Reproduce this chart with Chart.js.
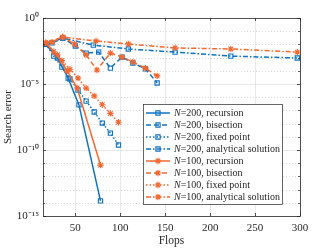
<!DOCTYPE html>
<html>
<head>
<meta charset="UTF-8">
<title>Search error vs flops</title>
<script src="https://cdn.jsdelivr.net/npm/chart.js"></script>
<style>
    body { margin: 0; background: #ffffff; }
    #wrap { position: relative; width: 332px; height: 249px; }
</style>
</head>
<body>
<div id="wrap"><canvas id="errChart"></canvas></div>
<script>
    // Flops (x) and search error (y)
    var recN200X = [17, 30, 42, 54, 78];
    var recN200Y = [1.07e-2, 9.3e-4, 2.8e-5, 2.6e-7, 1.4e-14];
    var bisN200X = [17, 24, 36, 50, 62, 76, 89, 102, 114, 128, 141];
    var bisN200Y = [1.07e-2, 1.3e-2, 3.0e-2, 7.6e-3, 2.2e-3, 2.6e-3, 1.6e-4, 1.1e-3, 3.9e-4, 1.4e-4, 1.2e-5];
    var fixN200X = [17, 26, 35, 44, 53, 62, 71, 80, 89, 98];
    var fixN200Y = [1.07e-2, 1.3e-3, 1.9e-4, 2.4e-5, 3.5e-6, 5.1e-7, 7.6e-8, 1.1e-8, 1.9e-9, 2.4e-10];
    var anaN200X = [17, 36, 70, 109, 161, 223, 297];
    var anaN200Y = [1.07e-2, 3.0e-2, 8.9e-3, 4.5e-3, 2.6e-3, 1.3e-3, 9.3e-4];

    var recN100X = [17, 30, 41, 52, 78];
    var recN100Y = [1.3e-2, 1.6e-3, 9.5e-5, 5.0e-6, 7.2e-12];
    var bisN100X = [17, 24, 36, 49, 62, 74, 89, 102, 114, 128, 141];
    var bisN100Y = [1.3e-2, 1.5e-2, 3.6e-2, 1.07e-2, 1.6e-3, 1.15e-4, 2.2e-3, 1.1e-3, 4.7e-4, 1.6e-4, 4.1e-5];
    var fixN100X = [17, 26, 35, 44, 53, 62, 71, 80, 89, 98];
    var fixN100Y = [1.3e-2, 2.8e-3, 5.9e-4, 1.3e-4, 2.8e-5, 4.9e-6, 1.26e-6, 2.7e-7, 5.9e-8, 1.26e-8];
    var anaN100X = [17, 36, 73, 109, 161, 223, 297];
    var anaN100Y = [1.3e-2, 3.6e-2, 1.8e-2, 1.07e-2, 5.4e-3, 4.5e-3, 2.6e-3];

    var xTicks = [50, 100, 150, 200, 250, 300];
    var yMajorExp = [0, -5, -10, -15];

    var BLUE = '#0f72c0';
    var ORANGE = '#f4682f';
    var SERIF = '"Liberation Serif", "Times New Roman", serif';

    var DASHED = [5, 3];
    var DOTTED = [1.5, 2];
    var DASHDOT = [5, 2, 1.5, 2];

    function pts(xs, ys) {
        return xs.map(function (x, i) { return { x: x, y: ys[i] }; });
    }

    function series(n, method, xs, ys, color, dash, marker, order) {
        return {
            label: n + '|' + method,
            data: pts(xs, ys),
            borderColor: color,
            backgroundColor: 'rgba(0,0,0,0)',
            borderWidth: 1.5,
            borderDash: dash,
            pointStyle: marker,
            pointRadius: marker === 'rect' ? 3 : 3.2,
            pointBorderWidth: 1.1,
            pointBackgroundColor: 'rgba(0,0,0,0)',
            pointBorderColor: color,
            tension: 0,
            order: order
        };
    }

    var datasets = [
        series('200', 'recursion', recN200X, recN200Y, BLUE, [], 'rect', 2),
        series('200', 'bisection', bisN200X, bisN200Y, BLUE, DASHED, 'rect', 2),
        series('200', 'fixed point', fixN200X, fixN200Y, BLUE, DOTTED, 'rect', 2),
        series('200', 'analytical solution', anaN200X, anaN200Y, BLUE, DASHDOT, 'rect', 2),
        series('100', 'recursion', recN100X, recN100Y, ORANGE, [], 'star', 1),
        series('100', 'bisection', bisN100X, bisN100Y, ORANGE, DASHED, 'star', 1),
        series('100', 'fixed point', fixN100X, fixN100Y, ORANGE, DOTTED, 'star', 1),
        series('100', 'analytical solution', anaN100X, anaN100Y, ORANGE, DASHDOT, 'star', 1)
    ];

    // grid, box, inward ticks and the legend, drawn against the chart scales
    var framePlugin = {
        id: 'frame',
        beforeDatasetsDraw: function (chart) {
            var ctx = chart.ctx, a = chart.chartArea;
            var xs = chart.scales.x, ys = chart.scales.y;
            ctx.save();
            ctx.lineWidth = 0.8;
            ctx.strokeStyle = '#e2e2e2';
            xTicks.forEach(function (v) {
                var px = Math.round(xs.getPixelForValue(v)) + 0.5;
                if (px > a.left + 1 && px < a.right - 1) {
                    ctx.beginPath(); ctx.moveTo(px, a.top); ctx.lineTo(px, a.bottom); ctx.stroke();
                }
            });
            for (var e = -1; e > -15; e--) {
                var py = Math.round(ys.getPixelForValue(Math.pow(10, e))) + 0.5;
                if (e % 5 === 0) {
                    ctx.setLineDash([]);
                    ctx.strokeStyle = '#e2e2e2';
                } else {
                    ctx.setLineDash([1, 2]);
                    ctx.strokeStyle = '#cfcfcf';
                }
                ctx.beginPath(); ctx.moveTo(a.left, py); ctx.lineTo(a.right, py); ctx.stroke();
            }
            ctx.restore();
        },
        afterDatasetsDraw: function (chart) {
            var ctx = chart.ctx, a = chart.chartArea;
            var xs = chart.scales.x, ys = chart.scales.y;
            ctx.save();
            ctx.strokeStyle = '#262626';
            ctx.lineWidth = 0.8;
            ctx.strokeRect(Math.round(a.left) + 0.5, Math.round(a.top) + 0.5,
                Math.round(a.right - a.left), Math.round(a.bottom - a.top));
            ctx.beginPath();
            xTicks.forEach(function (v) {
                var px = Math.round(xs.getPixelForValue(v)) + 0.5;
                ctx.moveTo(px, a.bottom); ctx.lineTo(px, a.bottom - 3);
                ctx.moveTo(px, a.top); ctx.lineTo(px, a.top + 3);
            });
            for (var e = 0; e >= -15; e--) {
                var py = Math.round(ys.getPixelForValue(Math.pow(10, e))) + 0.5;
                var len = (e % 5 === 0) ? 3 : 1.8;
                ctx.moveTo(a.left, py); ctx.lineTo(a.left + len, py);
                ctx.moveTo(a.right, py); ctx.lineTo(a.right - len, py);
            }
            ctx.stroke();
            ctx.restore();
            drawLegend(chart);
        }
    };

    function drawLegend(chart) {
        var ctx = chart.ctx, a = chart.chartArea;
        var w = 139, h = 100;
        var left = a.right - 18 - w, top = a.bottom - 12 - h;
        ctx.save();
        ctx.fillStyle = '#ffffff';
        ctx.fillRect(left, top, w, h);
        ctx.strokeStyle = '#262626';
        ctx.lineWidth = 0.7;
        ctx.strokeRect(left + 0.5, top + 0.5, w, h);
        chart.data.datasets.forEach(function (ds, i) {
            var cy = top + 9 + i * 12;
            var parts = ds.label.split('|');
            ctx.strokeStyle = ds.borderColor;
            ctx.lineWidth = ds.borderWidth;
            ctx.setLineDash(ds.borderDash);
            ctx.beginPath();
            ctx.moveTo(left + 3, cy);
            ctx.lineTo(left + 27, cy);
            ctx.stroke();
            ctx.setLineDash([]);
            ctx.lineWidth = ds.pointBorderWidth;
            ctx.fillStyle = 'rgba(0,0,0,0)';
            Chart.helpers.drawPoint(ctx, {
                pointStyle: ds.pointStyle,
                radius: ds.pointRadius,
                borderWidth: ds.pointBorderWidth,
                rotation: 0
            }, left + 15, cy);
            ctx.fillStyle = '#262626';
            ctx.textBaseline = 'middle';
            ctx.textAlign = 'left';
            ctx.font = 'italic 10px ' + SERIF;
            var tx = left + 31;
            ctx.fillText('N', tx, cy + 0.5);
            tx += ctx.measureText('N').width;
            ctx.font = '10px ' + SERIF;
            ctx.fillText('=' + parts[0] + ', ' + parts[1], tx, cy + 0.5);
        });
        ctx.restore();
    }

    var supMap = { '0': '\u2070', '1': '\u00b9', '5': '\u2075', '-': '\u207b' };

    var errCtx = document.getElementById('errChart').getContext('2d');
    var errChart = new Chart(errCtx, {
        type: 'line',
        data: { datasets: datasets },
        plugins: [framePlugin],
        options: {
            responsive: true,
            maintainAspectRatio: false,
            animation: false,
            layout: { padding: { left: 0, right: 32, top: 18, bottom: 0 } },
            plugins: {
                legend: { display: false },
                tooltip: { enabled: false }
            },
            scales: {
                x: {
                    type: 'linear',
                    min: 14,
                    max: 300,
                    grid: { display: false, drawTicks: false },
                    border: { display: false },
                    afterBuildTicks: function (axis) {
                        axis.ticks = xTicks.map(function (v) { return { value: v }; });
                    },
                    afterFit: function (axis) { axis.height = 33; },
                    ticks: {
                        padding: 6,
                        color: '#262626',
                        font: { family: SERIF, size: 11 },
                        maxRotation: 0
                    },
                    title: {
                        display: true,
                        text: 'Flops',
                        color: '#262626',
                        font: { family: SERIF, size: 11.5 },
                        padding: { top: 1, bottom: 1 }
                    }
                },
                y: {
                    type: 'logarithmic',
                    min: 1e-15,
                    max: 1,
                    grid: { display: false, drawTicks: false },
                    border: { display: false },
                    afterBuildTicks: function (axis) {
                        axis.ticks = yMajorExp.map(function (e) { return { value: Math.pow(10, e) }; });
                    },
                    afterFit: function (axis) { axis.width = 43; },
                    ticks: {
                        padding: 4,
                        color: '#262626',
                        font: { family: SERIF, size: 11 },
                        callback: function (v) {
                            var e = String(Math.round(Math.log10(v)));
                            return '10' + e.split('').map(function (c) { return supMap[c]; }).join('');
                        }
                    },
                    title: {
                        display: true,
                        text: 'Search error',
                        color: '#262626',
                        font: { family: SERIF, size: 11 },
                        padding: { top: 2, bottom: 0 }
                    }
                }
            }
        }
    });
</script>
</body>
</html>
